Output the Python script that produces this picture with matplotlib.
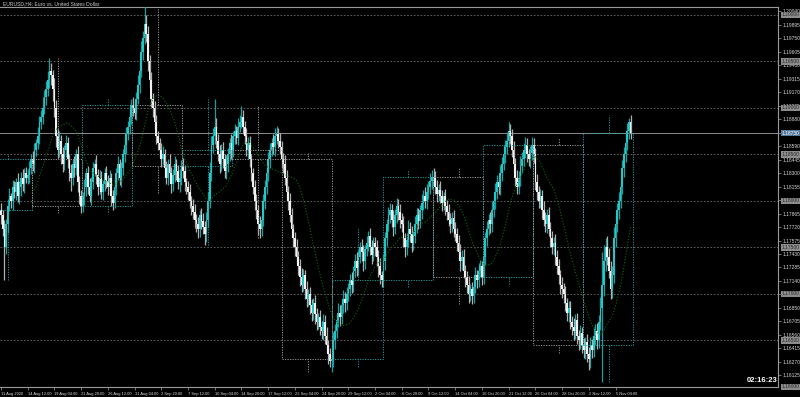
import numpy as np
import matplotlib
matplotlib.use('Agg')
import matplotlib.pyplot as plt
from matplotlib.patches import Rectangle
import matplotlib.transforms as mtransforms

plt.rcParams['font.family'] = ['Liberation Sans', 'DejaVu Sans']

# ---------------- data (prices in pips above 1.1600) ----------------
first_open = 190
close_pips = [
    185,170,150,175,195,205,200,215,210,220,205,215,225,218,230,225,
    228,235,245,240,255,262,270,285,290,300,312,320,330,340,335,320,
    300,270,255,265,250,240,255,262,245,230,225,240,235,250,220,205,
    195,205,215,230,215,205,220,235,240,228,215,225,210,218,230,222,
    215,225,205,198,215,230,240,225,235,250,260,272,280,290,303,300,
    295,310,325,340,360,375,390,380,350,330,310,300,285,270,262,255,
    245,250,235,225,240,230,218,228,240,232,220,225,238,232,220,215,
    210,200,195,188,180,175,170,185,178,172,165,180,200,230,260,270,
    280,265,250,240,255,245,232,240,250,262,255,270,275,268,280,285,
    290,280,270,255,262,245,230,215,200,190,175,170,180,200,215,230,
    245,255,262,258,270,272,265,258,245,240,225,210,200,185,170,160,
    150,140,130,118,110,120,105,95,100,88,80,90,78,70,75,65,
    60,70,55,45,35,28,30,50,60,72,80,75,88,95,90,100,
    105,115,110,125,135,128,140,150,145,135,148,155,162,150,142,155,
    150,140,130,120,115,135,160,175,185,190,180,172,185,195,188,180,
    175,160,150,158,170,165,155,162,175,185,178,190,198,205,200,210,
    215,222,226,225,215,208,212,205,198,205,195,188,180,175,182,170,
    165,155,145,135,140,125,118,110,100,105,98,108,120,115,125,130,
    118,140,160,170,180,175,190,200,210,220,215,230,240,250,258,265,
    275,270,255,240,225,215,225,238,245,255,260,250,245,252,260,250,
    220,210,200,205,190,180,175,185,170,160,150,155,140,130,120,110,
    105,100,90,80,85,70,65,60,72,55,50,58,45,40,48,35,
    30,45,40,55,60,50,70,85,110,135,150,140,125,105,120,160,
    175,190,200,215,235,250,262,275,285,273,
]
upper_wick = [
    8,5,10,6,7,9,4,8,6,5,10,7,6,9,5,7,
    6,8,5,9,7,5,10,6,8,12,7,9,10,14,8,6,
    12,9,7,10,6,8,5,9,7,6,10,5,8,6,9,7,
    7,5,9,6,8,10,6,7,5,9,6,8,7,5,6,8,
    6,8,5,7,9,6,8,5,7,6,9,8,6,10,7,9,
    8,7,10,9,12,8,21,10,8,7,9,6,8,7,5,6,
    7,9,6,8,5,10,7,6,8,5,7,9,6,8,7,5,
    6,8,5,7,9,6,8,5,7,9,6,8,10,12,10,8,
    30,9,7,10,6,8,5,9,7,6,10,5,8,6,9,7,
    12,8,6,9,7,8,5,6,8,7,6,9,5,7,8,6,
    8,7,6,10,8,9,7,8,6,7,9,8,6,9,7,5,
    7,9,6,8,10,7,6,9,5,8,7,6,9,7,5,8,
    6,8,7,9,5,7,6,9,8,7,10,8,6,9,7,8,
    7,6,9,5,8,10,7,6,9,8,5,7,6,9,8,6,
    6,8,7,9,5,8,7,6,9,8,7,10,6,8,7,9,
    7,9,6,8,10,7,8,6,9,7,8,6,9,7,10,8,
    6,8,7,9,7,8,6,9,7,5,8,6,9,7,6,8,
    7,6,8,9,7,8,6,7,9,6,8,7,9,6,8,7,
    6,8,7,9,6,8,10,7,9,8,6,9,7,10,8,9,
    10,8,7,9,6,8,7,10,8,7,9,8,6,7,9,8,
    7,9,6,8,7,10,8,6,9,7,8,6,9,7,8,6,
    8,7,9,6,8,7,6,9,7,8,6,9,7,8,6,9,
    8,9,7,10,8,9,7,12,35,18,10,12,9,11,10,12,
    9,8,10,7,9,8,10,9,4,7,
]
lower_wick = [
    10,8,35,7,9,6,8,10,7,9,6,8,10,7,9,6,
    7,9,6,8,10,7,6,9,8,7,6,9,7,8,10,12,
    10,12,9,8,10,9,7,8,10,9,14,8,9,7,10,8,
    8,7,9,10,8,6,9,7,8,10,9,7,8,9,7,8,
    9,7,10,8,6,9,7,8,10,7,8,9,6,8,7,9,
    7,8,6,9,7,8,6,9,10,8,9,10,8,9,7,8,
    8,6,9,7,8,10,9,7,8,9,7,10,8,7,9,8,
    9,8,10,7,9,8,10,9,8,7,12,9,8,7,9,8,
    9,8,7,10,8,9,7,8,9,7,10,8,9,7,8,6,
    7,8,9,7,10,8,9,7,10,9,12,10,8,7,9,8,
    8,9,7,8,10,9,8,7,9,10,8,9,10,8,9,10,
    9,8,10,9,8,7,10,9,8,10,9,8,10,9,8,9,
    8,10,9,8,10,7,12,8,9,7,8,9,7,8,9,7,
    8,7,9,8,7,9,8,7,9,10,8,7,9,8,10,7,
    9,10,12,9,8,7,9,8,7,9,8,10,7,9,8,9,
    8,9,10,8,7,9,10,8,7,9,8,7,9,8,7,9,
    8,7,9,8,7,9,8,7,9,8,10,8,7,9,8,9,
    8,9,8,10,9,8,10,9,10,8,9,8,7,9,8,7,
    8,7,9,8,7,9,8,7,9,8,7,9,8,7,9,8,
    7,9,8,10,9,8,7,9,8,7,9,8,7,9,8,9,
    8,9,7,8,9,7,8,9,8,9,7,8,9,8,9,10,
    9,10,8,9,10,8,9,10,8,9,10,9,8,9,10,8,
    12,10,9,8,10,9,8,9,80,12,10,9,8,10,9,8,
    9,8,9,7,8,9,8,7,8,6,
]
x_labels = ["11 Aug 2020", "14 Aug 12:00", "19 Aug 04:00", "21 Aug 20:00",
            "26 Aug 12:00", "31 Aug 04:00", "2 Sep 20:00", "7 Sep 12:00",
            "10 Sep 04:00", "14 Sep 20:00", "17 Sep 12:00", "22 Sep 04:00",
            "24 Sep 20:00", "29 Sep 12:00", "2 Oct 04:00", "6 Oct 20:00",
            "9 Oct 12:00", "14 Oct 04:00", "16 Oct 20:00", "21 Oct 12:00",
            "26 Oct 04:00", "28 Oct 20:00", "2 Nov 12:00", "5 Nov 04:00"]
bars_per_label = 16
week_start_bars = [-11, 19, 49, 79, 109, 139, 169, 199, 229, 259, 289, 319, 349]
bars_per_week = 30
round_levels = [1.1600, 1.1650, 1.1700, 1.1750, 1.1800, 1.1850, 1.1900, 1.1950, 1.2000]
axis_label_start = 1.16125
axis_label_step = 0.00145
current_price = 1.18730
ma_period = 21
title = "EURUSD,H4: Euro vs. United States Dollar"
countdown = "02:16:23"

# ---------------- derived prices ----------------
closes = 1.16 + np.array(close_pips) / 10000.0
opens = np.concatenate([[1.16 + first_open / 10000.0], closes[:-1]])
highs = np.maximum(opens, closes) + np.array(upper_wick) / 10000.0
lows = np.minimum(opens, closes) - np.array(lower_wick) / 10000.0
n = len(closes)
idx = np.arange(n)

# ---------------- figure ----------------
W, H = 800, 397
fig = plt.figure(figsize=(W / 100, H / 100), dpi=100, facecolor='black')
ax = fig.add_axes([0.0, 1 - 387 / H, 778 / W, (387 - 7) / H])
ax.set_facecolor('black')
ax.set_xlim(-0.6, 465.3)
ax.set_ylim(1.1600, 1.20086)

for lv in round_levels:
    ax.axhline(lv, color='#6e6e6e', lw=0.6, ls=(0, (2, 2)), zorder=1)
ax.axhline(current_price, color='#8a8a8a', lw=0.7, zorder=1)

# candles
bull = closes >= opens
bull_body, bear_body = '#22c8c8', '#f2f2f2'
bull_wick, bear_wick = '#1a9e9e', '#b0b0b0'
ax.vlines(idx[bull], lows[bull], highs[bull], color=bull_wick, lw=0.9, zorder=3)
ax.vlines(idx[~bull], lows[~bull], highs[~bull], color=bear_wick, lw=0.9, zorder=3)
body_lo = np.minimum(opens, closes)
body_h = np.maximum(np.abs(closes - opens), 0.00003)
ax.bar(idx[bull], body_h[bull], bottom=body_lo[bull], width=1.0,
       color=bull_body, linewidth=0, zorder=4)
ax.bar(idx[~bull], body_h[~bull], bottom=body_lo[~bull], width=1.0,
       color=bear_body, linewidth=0, zorder=4)

# moving average
ma = np.convolve(closes, np.ones(ma_period) / ma_period, mode='valid')
ax.plot(idx[ma_period - 1:], ma, color='#0b6b0b', lw=0.8, ls=':', zorder=5)

# weekly candle overlay (dotted)
for s in week_start_bars:
    a = max(s, 0)
    b = min(s + bars_per_week, n)
    if a >= b:
        continue
    wo, wc = opens[a], closes[b - 1]
    wh, wl = highs[a:b].max(), lows[a:b].min()
    col = '#2aa5a5' if wc >= wo else '#a5a5a5'
    ax.add_patch(Rectangle((s - 0.5, min(wo, wc)), bars_per_week, abs(wc - wo),
                           fill=False, edgecolor=col, lw=0.6, ls=(0, (1.5, 1.5)),
                           zorder=6))
    mid = s + bars_per_week / 2
    ax.vlines(mid, max(wo, wc), wh, color=col, lw=0.6, ls=(0, (1.5, 1.5)), zorder=6)
    ax.vlines(mid, wl, min(wo, wc), color=col, lw=0.6, ls=(0, (1.5, 1.5)), zorder=6)

ax.spines['left'].set_visible(False)
for side in ['top', 'right', 'bottom']:
    ax.spines[side].set_color('#9a9a9a')
    ax.spines[side].set_linewidth(0.8)

yt = [axis_label_start + k * axis_label_step for k in range(28)]
ax.yaxis.tick_right()
ax.set_yticks(yt)
ax.set_yticklabels([f"{v:.5f}" for v in yt])
ax.tick_params(axis='y', colors='#9a9a9a', labelcolor='#d8d8d8', labelsize=3.5,
               length=2.5, width=0.5, pad=1.0)
xt = [k * bars_per_label for k in range(len(x_labels))]
ax.set_xticks(xt)
ax.set_xticklabels(x_labels, ha='left')
ax.tick_params(axis='x', colors='#9a9a9a', labelcolor='#d8d8d8', labelsize=2.9,
               length=2.5, width=0.5, pad=1)

trans = mtransforms.blended_transform_factory(ax.transAxes, ax.transData)
for lv in round_levels:
    ax.text(1.0045, lv, f"{lv:.5f}", transform=trans, fontsize=3.5, color='#2a2a2a',
            va='center', ha='left', clip_on=False, zorder=8,
            bbox=dict(boxstyle='square,pad=0.15', facecolor='#8c8c8c', edgecolor='none'))
ax.text(1.0045, current_price, f"{current_price:.5f}", transform=trans, fontsize=3.5,
        color='white', va='center', ha='left', clip_on=False, zorder=9,
        bbox=dict(boxstyle='square,pad=0.15', facecolor='#56789a', edgecolor='none'))

fig.text(3 / W, 1 - 4 / H, title, fontsize=3.6, color='#c8c8c8', va='center', ha='left')
fig.text(747 / W, 1 - 381 / H, countdown, fontsize=5.5, fontweight='bold',
         color='white', va='center', ha='left')

fig.savefig('out.png', dpi=100, facecolor='black')
